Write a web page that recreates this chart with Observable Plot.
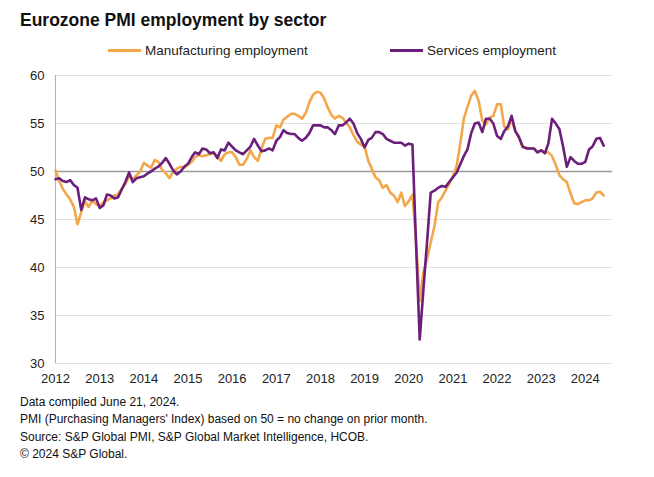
<!DOCTYPE html>
<html><head><meta charset="utf-8">
<script src="https://cdn.jsdelivr.net/npm/d3@7"></script>
<script src="https://cdn.jsdelivr.net/npm/@observablehq/plot@0.6"></script>
<style>
body{margin:0;background:#fff;font-family:"Liberation Sans",Arial,sans-serif;}
#wrap{position:relative;width:654px;height:477px;overflow:hidden;}
#title{position:absolute;left:20px;top:10px;font-size:17.5px;font-weight:bold;color:#111;}
.leg{position:absolute;top:43px;font-size:13.5px;color:#222;display:flex;align-items:center;white-space:nowrap;}
.sw{display:inline-block;width:33px;height:3px;margin-right:4px;}
#chart{position:absolute;left:0;top:60px;}
#notes{position:absolute;left:20px;top:394px;font-size:12px;line-height:17.4px;color:#111;}
</style></head>
<body>
<div id="wrap">
  <div id="title">Eurozone PMI employment by sector</div>
  <div class="leg" style="left:108px"><span class="sw" id="sw1"></span>Manufacturing employment</div>
  <div class="leg" style="left:390px"><span class="sw" id="sw2"></span>Services employment</div>
  <div id="chart"></div>
  <div id="notes">
    <div>Data compiled June 21, 2024.</div>
    <div>PMI (Purchasing Managers' Index) based on 50 = no change on prior month.</div>
    <div>Source: S&amp;P Global PMI, S&amp;P Global Market Intelligence, HCOB.</div>
    <div>© 2024 S&amp;P Global.</div>
  </div>
</div>
<script>
// Monthly series, Jan 2012 – Jun 2024
const startMonth = [2012, 0];
const seriesNames = ["Manufacturing employment", "Services employment"];
const seriesColors = ["#f3a74b", "#6b1f7b"];
const manufacturing = [
  50.1, 49.0, 48.2, 47.6, 47.1, 46.3, 44.5, 45.8, 46.9, 46.3, 47.0, 46.6,
  46.4, 46.8, 47.0, 47.2, 47.5, 47.6, 48.2, 48.7, 49.5, 49.2, 49.6, 50.0,
  50.9, 50.6, 50.4, 51.2, 51.0, 50.2, 49.8, 49.3, 50.0, 50.3, 50.5, 50.4,
  50.7, 51.0, 51.5, 51.7, 51.6, 51.7, 51.8, 51.9, 51.6, 51.1, 51.8, 52.0,
  52.0, 51.5, 50.7, 50.7, 51.3, 52.2, 51.5, 51.1, 52.4, 53.4, 53.5, 53.5,
  54.8, 54.6, 55.4, 55.7, 56.0, 56.0, 55.8, 55.5, 56.1, 57.2, 58.0, 58.3,
  58.2, 57.6, 56.7, 55.9, 55.5, 55.8, 55.6, 55.1, 54.6, 53.8, 53.1, 52.8,
  52.6, 51.1, 50.3, 49.4, 49.1, 48.3, 48.6, 47.8, 47.5, 46.8, 47.8, 46.4,
  46.9, 47.6, 43.0, 36.5, 39.5, 40.9, 42.6, 44.3, 46.8, 47.3, 48.0, 48.7,
  49.5, 50.6, 52.8, 55.5, 56.7, 57.9, 58.4, 57.4, 55.3, 54.9, 55.6, 55.8,
  57.0, 57.0, 54.7, 54.4, 55.4, 54.2, 53.5, 52.5, 52.5, 52.4, 52.4, 52.0,
  52.2, 52.0, 52.0, 51.6, 50.7, 49.6, 49.2, 48.9, 47.7, 46.7, 46.6, 46.8,
  47.0, 47.0, 47.2, 47.8, 47.9, 47.5
];
const services = [
  49.2, 49.3, 49.0, 48.9, 49.1, 48.6, 48.3, 46.0, 47.3, 47.1, 47.0, 47.2,
  46.2, 46.5, 47.6, 47.5, 47.2, 47.3, 48.1, 48.9, 49.9, 48.9, 49.3, 49.4,
  49.5, 49.8, 50.0, 50.3, 50.5, 50.9, 51.4, 50.8, 50.1, 49.7, 50.0, 50.5,
  50.8, 51.5, 52.0, 51.8, 52.4, 52.3, 51.9, 52.0, 51.4, 52.3, 52.2, 53.0,
  52.6, 52.2, 52.0, 51.8, 52.2, 52.6, 53.4, 52.7, 52.1, 52.2, 52.4, 52.2,
  53.2, 53.6, 54.3, 54.0, 53.9, 53.9, 53.5, 53.2, 53.5, 54.0, 54.8, 54.8,
  54.8, 54.6, 54.6, 54.3, 53.9, 54.8, 54.8, 55.1, 55.5, 55.0, 54.0, 53.4,
  52.5, 53.3, 53.5, 54.1, 54.1, 53.9, 53.4, 53.2, 53.0, 53.0, 53.0, 52.7,
  52.9, 52.8, 42.7, 32.5, 37.6, 42.7, 47.8, 48.0, 48.3, 48.5, 48.4, 48.9,
  49.4, 49.9, 50.7, 51.6, 52.3, 54.0, 55.0, 55.1, 54.1, 55.5, 55.5, 55.0,
  53.7, 53.4, 54.2, 54.7, 55.8, 54.2, 53.6, 52.6, 52.4, 52.4, 52.4, 52.0,
  52.2, 51.9, 52.9, 55.5, 55.0, 54.4, 52.6, 50.5, 51.5, 51.1, 50.8, 50.8,
  51.0, 52.3, 52.6, 53.4, 53.5, 52.7
];
const yearTicks = [2012, 2013, 2014, 2015, 2016, 2017, 2018, 2019, 2020, 2021, 2022, 2023, 2024];
const yTicks = [30, 35, 40, 45, 50, 55, 60];

document.getElementById("sw1").style.background = seriesColors[0];
document.getElementById("sw2").style.background = seriesColors[1];

const monthDate = i => new Date(Date.UTC(startMonth[0], startMonth[1] + i, 1));
const rows = [];
manufacturing.forEach((v, i) => rows.push({date: monthDate(i), value: v, series: seriesNames[0]}));
services.forEach((v, i) => rows.push({date: monthDate(i), value: v, series: seriesNames[1]}));

const x0 = new Date(Date.UTC(2012, 0, 1));
const x1 = new Date(Date.UTC(2024, 7, 13));

const chart = Plot.plot({
  width: 654, height: 335,
  marginLeft: 55, marginRight: 42, marginTop: 15, marginBottom: 32,
  style: {fontFamily: "'Liberation Sans', Arial, sans-serif", fontSize: "13px", color: "#222", background: "#fff"},
  x: {type: "utc", domain: [x0, x1], ticks: yearTicks.map(y => new Date(Date.UTC(y, 0, 1))), tickFormat: "%Y", tickSize: 0, tickPadding: 10, label: null},
  y: {domain: [30, 60], ticks: yTicks, tickSize: 0, tickPadding: 11, label: null},
  marks: [
    Plot.ruleY(yTicks.filter(d => d !== 50), {stroke: "#e2e2e2", strokeWidth: 1}),
    Plot.ruleY([50], {stroke: "#9a9a9a", strokeWidth: 1.4}),
    Plot.ruleX([x0], {stroke: "#b0b0b0", strokeWidth: 1}),
    Plot.lineY(rows.filter(d => d.series === seriesNames[0]), {x: "date", y: "value", stroke: seriesColors[0], strokeWidth: 2.6}),
    Plot.lineY(rows.filter(d => d.series === seriesNames[1]), {x: "date", y: "value", stroke: seriesColors[1], strokeWidth: 2.6})
  ]
});
document.getElementById("chart").appendChild(chart);
</script>
</body></html>
